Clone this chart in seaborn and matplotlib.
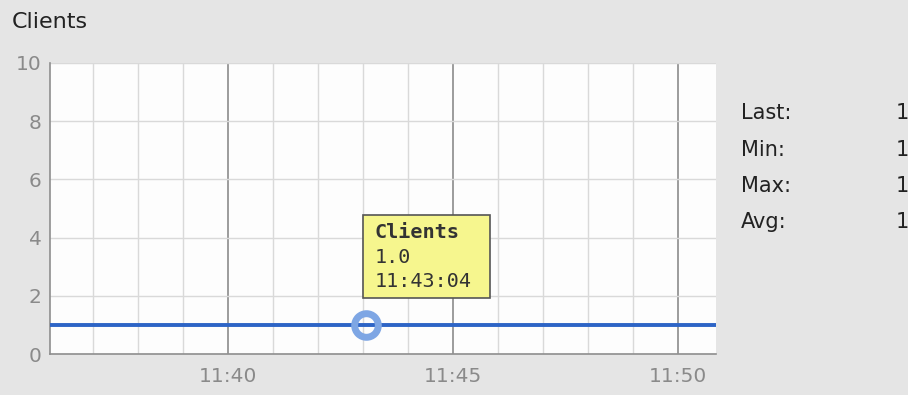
import datetime as dt

import matplotlib
matplotlib.use("Agg")
import matplotlib.dates as mdates
import matplotlib.pyplot as plt
import matplotlib.transforms as mtransforms
from matplotlib.patches import Rectangle
import pandas as pd
import seaborn as sns

# Client count samples
sample_times = ["11:36:03", "11:37:04", "11:38:04", "11:39:04", "11:40:04",
                "11:41:04", "11:42:04", "11:43:04", "11:44:04", "11:45:04",
                "11:46:04", "11:47:04", "11:48:04", "11:49:04", "11:50:04",
                "11:50:51"]
client_counts = [1.0, 1.0, 1.0, 1.0, 1.0, 1.0, 1.0, 1.0,
                 1.0, 1.0, 1.0, 1.0, 1.0, 1.0, 1.0, 1.0]

highlight_time = "11:43:04"
highlight_value = 1.0

stat_labels = ["Last:", "Min:", "Max:", "Avg:"]
stat_values = ["1", "1", "1", "1"]

y_ticks = [0, 2, 4, 6, 8, 10]
x_start, x_end = "11:36:03", "11:50:51"

day = dt.date(2024, 1, 1)


def to_dt(s):
    return dt.datetime.combine(day, dt.datetime.strptime(s, "%H:%M:%S").time())


df = pd.DataFrame({"time": [to_dt(t) for t in sample_times],
                   "clients": client_counts})

sns.set_theme(style="white")
plt.rcParams["font.family"] = ["DejaVu Sans"]

BG = "#e5e5e5"
TICK_GRAY = "#8a8a8a"

fig = plt.figure(figsize=(9.08, 3.95), dpi=100, facecolor=BG)
ax = fig.add_axes([50 / 908, 41 / 395, 666 / 908, 291 / 395])
ax.set_facecolor("#fdfdfd")

sns.lineplot(data=df, x="time", y="clients", ax=ax, color="#2d64c6",
             linewidth=2.8, zorder=4)

ax.set_xlim(to_dt(x_start), to_dt(x_end))
ax.set_ylim(0, 10)
ax.set_yticks(y_ticks)
ax.xaxis.set_major_locator(mdates.MinuteLocator(byminute=range(0, 60, 5)))
ax.xaxis.set_minor_locator(mdates.MinuteLocator())
ax.xaxis.set_major_formatter(mdates.DateFormatter("%H:%M"))

# grid: light minute / 2-unit lines, darker 5-minute lines
ax.grid(False)
ax.grid(axis="x", which="minor", color="#d9d9d9", linewidth=1.0, zorder=1)
ax.grid(axis="y", which="major", color="#d9d9d9", linewidth=1.0, zorder=1)
ax.grid(axis="x", which="major", color="#8c8c8c", linewidth=1.2, zorder=2)
ax.set_axisbelow(True)

ax.set_xlabel("")
ax.set_ylabel("")
ax.tick_params(axis="both", which="both", length=0, labelsize=14.5,
               colors=TICK_GRAY)
ax.tick_params(axis="y", pad=6)
ax.tick_params(axis="x", pad=9)

for side in ("top", "right"):
    ax.spines[side].set_visible(False)
ax.spines["left"].set_color("#8e8e8e")
ax.spines["bottom"].set_color("#8e8e8e")
ax.spines["left"].set_linewidth(1.2)
ax.spines["bottom"].set_linewidth(1.2)

# highlighted sample marker
hx = to_dt(highlight_time)
ax.plot([hx], [highlight_value], marker="o", markersize=17,
        markerfacecolor="none", markeredgecolor="#7ea6e4",
        markeredgewidth=5, zorder=5, clip_on=False)

# tooltip anchored in pixels relative to the highlighted point
anchor = mtransforms.IdentityTransform() + mtransforms.ScaledTranslation(
    mdates.date2num(hx), highlight_value, ax.transData)
ax.add_patch(Rectangle((-3, 27), 127, 83, transform=anchor,
                       facecolor="#f6f68e", edgecolor="#555555",
                       linewidth=1.2, zorder=6, clip_on=False))
tip_font = dict(family="DejaVu Sans Mono", fontsize=14.5, color="#333333",
                transform=anchor, ha="left", va="center", zorder=7,
                clip_on=False)
ax.text(9, 92, "Clients", fontweight="bold", **tip_font)
ax.text(9, 67, f"{highlight_value:.1f}", **tip_font)
ax.text(9, 43, highlight_time, **tip_font)

# title
fig.text(12 / 908, 1 - 22 / 395, "Clients", fontsize=16, color="#222222",
         ha="left", va="center")

# summary statistics
stat_y = [113, 150, 186, 222]
for lab, val, y in zip(stat_labels, stat_values, stat_y):
    fig.text(741 / 908, 1 - y / 395, lab, fontsize=15, color="#222222",
             ha="left", va="center")
    fig.text(896 / 908, 1 - y / 395, val, fontsize=15, color="#222222",
             ha="left", va="center")

fig.savefig("out.png", dpi=100, facecolor=BG)
